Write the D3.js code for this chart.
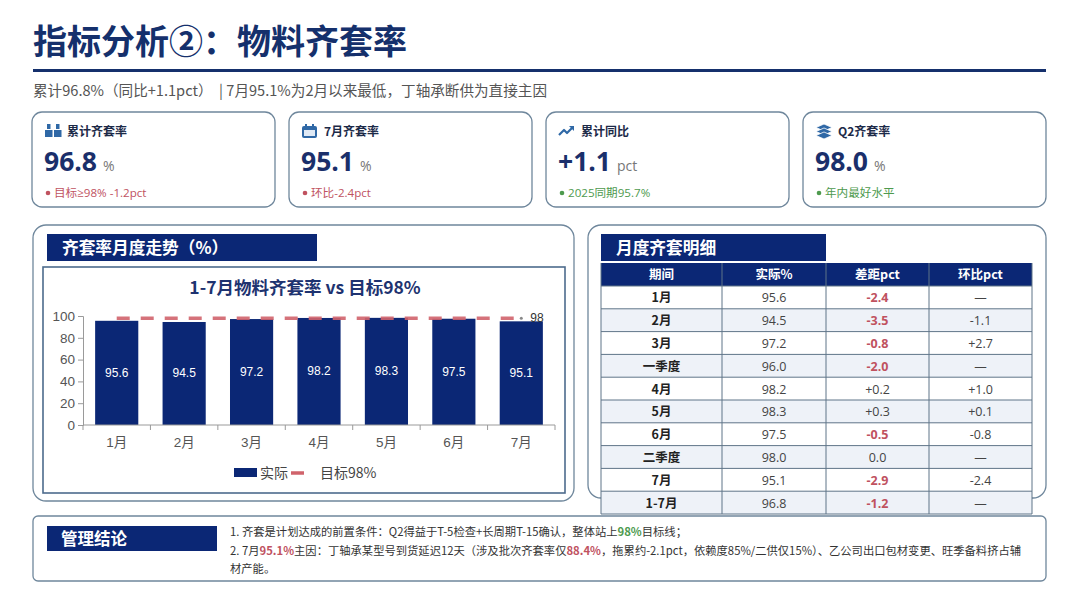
<!DOCTYPE html>
<html lang="zh">
<head>
<meta charset="UTF-8">
<title>指标分析②：物料齐套率</title>
<script src="https://cdn.jsdelivr.net/npm/d3@7/dist/d3.min.js"></script>
<style>
  body { margin: 0; background: #ffffff; }
  svg { display: block; }
  .pre { white-space: pre; }
</style>
</head>
<body>
<script>
// ---- data ----
const months = ["1月", "2月", "3月", "4月", "5月", "6月", "7月"];
const actual = [95.6, 94.5, 97.2, 98.2, 98.3, 97.5, 95.1];
const target = 98;
const yTicks = [0, 20, 40, 60, 80, 100];

const kpiLabels = ["累计齐套率", "7月齐套率", "累计同比", "Q2齐套率"];
const kpiValues = ["96.8", "95.1", "+1.1", "98.0"];
const kpiUnits = ["%", "%", "pct", "%"];
const kpiNotes = ["目标≥98% -1.2pct", "环比-2.4pct", "2025同期95.7%", "年内最好水平"];
const kpiTone = ["bad", "bad", "good", "good"];

const tableHead = ["期间", "实际%", "差距pct", "环比pct"];
const periods = ["1月", "2月", "3月", "一季度", "4月", "5月", "6月", "二季度", "7月", "1-7月"];
const actualPct = ["95.6", "94.5", "97.2", "96.0", "98.2", "98.3", "97.5", "98.0", "95.1", "96.8"];
const gapPct = ["-2.4", "-3.5", "-0.8", "-2.0", "+0.2", "+0.3", "-0.5", "0.0", "-2.9", "-1.2"];
const momPct = ["—", "-1.1", "+2.7", "—", "+1.0", "+0.1", "-0.8", "—", "-2.4", "—"];

const notes = [
  [["1. 齐套是计划达成的前置条件：Q2得益于T-5检查+长周期T-15确认，整体站上", ""], ["98%", "good"], ["目标线；", ""]],
  [["2. 7月", ""], ["95.1%", "bad"], ["主因：丁轴承某型号到货延迟12天（涉及批次齐套率仅", ""], ["88.4%", "bad"],
   ["，拖累约-2.1pct，依赖度85%/二供仅15%）、乙公司出口包材变更、旺季备料挤占辅", ""]],
  [["材产能。", ""]]
];

// ---- styles ----
const NAVY = "#0b2775";
const TITLE = "#15306c";
const RED = "#c0525f";
const GREEN = "#4e9a4e";
const BORDER = "#6f879c";
const ICON = "#2f68a6";
const CJK = "'Noto Sans CJK SC', 'Noto Sans', sans-serif";
const NUM = "'Liberation Sans', 'Noto Sans CJK SC', sans-serif";
const UI = "'Open Sans', 'Noto Sans CJK SC', sans-serif";

const svg = d3.select("body").append("svg")
  .attr("width", 1080).attr("height", 608);

// ---- page title ----
svg.append("text")
  .attr("x", 33).attr("y", 54)
  .attr("font-family", CJK).attr("font-weight", 700).attr("font-size", 34)
  .attr("fill", TITLE)
  .text("指标分析②：物料齐套率");

svg.append("rect")
  .attr("x", 33).attr("y", 69).attr("width", 1013).attr("height", 3)
  .attr("fill", TITLE);

svg.append("text")
  .attr("class", "pre")
  .attr("x", 33).attr("y", 96)
  .attr("font-family", CJK).attr("font-size", 14.6).attr("fill", "#555")
  .text("累计96.8%（同比+1.1pct）  | 7月95.1%为2月以来最低，丁轴承断供为直接主因");

// ---- KPI cards ----
const cardX = d3.scaleBand().domain(d3.range(4)).range([32, 1046]).paddingInner(0.0545).paddingOuter(0);

function drawIcon(g, i) {
  if (i === 0) {
    g.append("rect").attr("x", 0).attr("y", 6).attr("width", 7.5).attr("height", 7).attr("fill", ICON);
    g.append("rect").attr("x", 9).attr("y", 6).attr("width", 7.5).attr("height", 7).attr("fill", ICON);
    g.append("rect").attr("x", 2).attr("y", 0).attr("width", 3.5).attr("height", 5).attr("fill", ICON);
    g.append("rect").attr("x", 11).attr("y", 0).attr("width", 3.5).attr("height", 5).attr("fill", ICON);
  } else if (i === 1) {
    g.append("rect").attr("x", 0).attr("y", 2).attr("width", 15).attr("height", 12).attr("rx", 2).attr("fill", ICON);
    g.append("rect").attr("x", 3).attr("y", 0).attr("width", 2).attr("height", 4).attr("fill", ICON);
    g.append("rect").attr("x", 10).attr("y", 0).attr("width", 2).attr("height", 4).attr("fill", ICON);
    g.append("rect").attr("x", 2).attr("y", 6).attr("width", 11).attr("height", 6).attr("fill", "#dfe9f5");
  } else if (i === 2) {
    g.append("path").attr("d", "M0,11 L5,6 L8,9 L14,3").attr("fill", "none")
      .attr("stroke", ICON).attr("stroke-width", 2.2).attr("stroke-linejoin", "round");
    g.append("path").attr("d", "M10,2 L15,2 L15,7 Z").attr("fill", ICON);
  } else {
    [0, 4, 8].forEach(dy => {
      g.append("path").attr("d", `M8,${dy} L16,${dy + 3.5} L8,${dy + 7} L0,${dy + 3.5} Z`)
        .attr("fill", ICON).attr("stroke", "#fff").attr("stroke-width", 0.8);
    });
  }
}

const cards = svg.selectAll("g.card").data(d3.range(4)).join("g")
  .attr("class", "card")
  .attr("transform", i => `translate(${cardX(i)},112)`);

cards.append("rect")
  .attr("width", cardX.bandwidth()).attr("height", 95).attr("rx", 10)
  .attr("fill", "#fff").attr("stroke", BORDER).attr("stroke-width", 1.3);

cards.each(function (i) {
  const g = d3.select(this);
  drawIcon(g.append("g").attr("transform", "translate(13,12)"), i);
  g.append("text").attr("x", 35).attr("y", 24)
    .attr("font-family", CJK).attr("font-weight", 700).attr("font-size", 12).attr("fill", "#1c2a48")
    .text(kpiLabels[i]);
  const v = g.append("text").attr("x", 12).attr("y", 59)
    .attr("font-family", UI).attr("font-weight", 700).attr("font-size", 26.5).attr("fill", "#1a2f6b")
    .text(kpiValues[i]);
  const w = v.node().getComputedTextLength();
  g.append("text").attr("x", 12 + w + 6).attr("y", 59)
    .attr("font-family", UI).attr("font-size", 14).attr("fill", "#777")
    .text(kpiUnits[i]);
  const c = kpiTone[i] === "bad" ? RED : GREEN;
  g.append("circle").attr("cx", 16).attr("cy", 81).attr("r", 2.3).attr("fill", c);
  g.append("text").attr("x", 22).attr("y", 85)
    .attr("font-family", UI).attr("font-size", 11.6).attr("fill", c)
    .text(kpiNotes[i]);
});

// ---- panels ----
function panel(x, y, w, h) {
  svg.append("rect").attr("x", x).attr("y", y).attr("width", w).attr("height", h).attr("rx", 13)
    .attr("fill", "#fff").attr("stroke", BORDER).attr("stroke-width", 1.3);
}
function headBar(x, y, w, h, label) {
  svg.append("rect").attr("x", x).attr("y", y).attr("width", w).attr("height", h).attr("fill", NAVY);
  svg.append("text").attr("x", x + 15).attr("y", y + h / 2 + 6)
    .attr("font-family", CJK).attr("font-weight", 700).attr("font-size", 16.7).attr("fill", "#fff")
    .text(label);
}

panel(33, 225, 541, 276);
headBar(47, 234, 270, 27, "齐套率月度走势（%）");

panel(588, 225, 458, 273);
headBar(601, 234, 225, 27, "月度齐套明细");

// ---- chart ----
svg.append("rect").attr("x", 43).attr("y", 267).attr("width", 522).attr("height", 226)
  .attr("fill", "#fff").attr("stroke", "#4d6b8c").attr("stroke-width", 1.6);

svg.append("text").attr("x", 305).attr("y", 294).attr("text-anchor", "middle")
  .attr("font-family", CJK).attr("font-weight", 700).attr("font-size", 17.5).attr("fill", "#1e3370")
  .text("1-7月物料齐套率 vs 目标98%");

const x = d3.scaleBand().domain(months).range([83, 555]).paddingInner(0.36).paddingOuter(0.18);
const y = d3.scaleLinear().domain([0, 100]).range([425, 316]);

const plot = svg.append("g");

plot.selectAll("rect.bar").data(months).join("rect")
  .attr("class", "bar")
  .attr("x", d => x(d)).attr("width", x.bandwidth())
  .attr("y", (d, i) => y(actual[i])).attr("height", (d, i) => y(0) - y(actual[i]))
  .attr("fill", NAVY);

plot.selectAll("text.barlab").data(months).join("text")
  .attr("class", "barlab")
  .attr("x", d => x(d) + x.bandwidth() / 2)
  .attr("y", (d, i) => y(actual[i] / 2) + 4)
  .attr("text-anchor", "middle")
  .attr("font-family", NUM).attr("font-size", 12).attr("fill", "#fff")
  .text((d, i) => actual[i].toFixed(1));

// y axis
const yAxis = svg.append("g").attr("transform", "translate(83,0)")
  .call(d3.axisLeft(y).tickValues(yTicks).tickSize(5).tickPadding(3));
// x axis, ticks between categories
const boundaries = d3.range(months.length + 1).map(i => 83 + i * (472 / months.length));
const xAxis = svg.append("g").attr("transform", `translate(0,${y(0)})`)
  .call(d3.axisBottom(x).tickSize(0).tickPadding(12));
xAxis.append("g").selectAll("line").data(boundaries).join("line")
  .attr("x1", d => d).attr("x2", d => d).attr("y1", 0).attr("y2", 5);

[yAxis, xAxis].forEach(a => {
  a.select(".domain").attr("stroke", "#9a9a9a");
  a.selectAll("line").attr("stroke", "#9a9a9a");
  a.selectAll("text").attr("font-family", NUM).attr("font-size", 13.5).attr("fill", "#555");
});
xAxis.select(".domain").attr("d", "M83,0H555");

// target line
const line = d3.line().x(d => x(d) + x.bandwidth() / 2).y(() => y(target));
plot.append("path").datum(months)
  .attr("d", line)
  .attr("fill", "none").attr("stroke", "#d0636b").attr("stroke-width", 3.5)
  .attr("stroke-dasharray", "13,11").attr("opacity", 0.9);
const lastX = x(months[months.length - 1]) + x.bandwidth() / 2;
plot.append("circle").attr("cx", lastX).attr("cy", y(target)).attr("r", 1.5).attr("fill", "#888");
plot.append("text").attr("x", lastX + 9).attr("y", y(target) + 4)
  .attr("font-family", NUM).attr("font-size", 12).attr("fill", "#333")
  .text(target);

// legend
const leg = svg.append("g").attr("transform", "translate(234,468)");
leg.append("rect").attr("width", 23).attr("height", 9).attr("fill", NAVY);
leg.append("text").attr("x", 26).attr("y", 10).attr("font-family", CJK).attr("font-size", 14).attr("fill", "#444").text("实际");
leg.append("line").attr("x1", 57).attr("x2", 70).attr("y1", 5).attr("y2", 5)
  .attr("stroke", "#d0636b").attr("stroke-width", 3.5);
leg.append("text").attr("x", 86).attr("y", 10).attr("font-family", CJK).attr("font-size", 14).attr("fill", "#444").text("目标98%");

// ---- table ----
const colEdges = [601, 722, 826, 929, 1032];
const headH = 23, rowH = 22.8, tTop = 263;
const tbl = svg.append("g");

tbl.append("rect").attr("x", 601).attr("y", tTop).attr("width", 431).attr("height", headH).attr("fill", NAVY);
tbl.selectAll("text.th").data(tableHead).join("text")
  .attr("class", "th")
  .attr("x", (d, i) => (colEdges[i] + colEdges[i + 1]) / 2).attr("y", tTop + 16)
  .attr("text-anchor", "middle")
  .attr("font-family", CJK).attr("font-weight", 700).attr("font-size", 12.5).attr("fill", "#fff")
  .text(d => d);

const rows = tbl.selectAll("g.row").data(periods).join("g")
  .attr("class", "row")
  .attr("transform", (d, i) => `translate(0,${tTop + headH + i * rowH})`);

rows.append("rect").attr("x", 601).attr("width", 431).attr("height", rowH)
  .attr("fill", (d, i) => i % 2 ? "#eef2f8" : "#ffffff");

rows.each(function (p, i) {
  const g = d3.select(this);
  const cells = [p, actualPct[i], gapPct[i], momPct[i]];
  cells.forEach((c, j) => {
    const neg = j === 2 && c.startsWith("-");
    g.append("text")
      .attr("x", (colEdges[j] + colEdges[j + 1]) / 2).attr("y", rowH / 2 + 5)
      .attr("text-anchor", "middle")
      .attr("font-family", j === 0 ? CJK : UI)
      .attr("font-weight", j === 0 || neg ? 700 : 400)
      .attr("font-size", 12.5)
      .attr("fill", j === 0 ? "#222" : neg ? RED : "#444")
      .text(c);
  });
});

// grid lines
const tBottom = tTop + headH + periods.length * rowH;
tbl.selectAll("line.h").data(d3.range(periods.length + 1)).join("line")
  .attr("x1", 601).attr("x2", 1032)
  .attr("y1", i => tTop + headH + i * rowH).attr("y2", i => tTop + headH + i * rowH)
  .attr("stroke", "#5f7488").attr("stroke-width", 1);
tbl.selectAll("line.v").data(colEdges).join("line")
  .attr("x1", d => d).attr("x2", d => d).attr("y1", tTop).attr("y2", tBottom)
  .attr("stroke", "#5f7488").attr("stroke-width", 1);

// ---- conclusion ----
svg.append("rect").attr("x", 33).attr("y", 516).attr("width", 1013).attr("height", 65).attr("rx", 5)
  .attr("fill", "#fff").attr("stroke", BORDER).attr("stroke-width", 1.3);
svg.append("rect").attr("x", 47).attr("y", 526).attr("width", 170).attr("height", 25).attr("fill", NAVY);
svg.append("text").attr("x", 61).attr("y", 545)
  .attr("font-family", CJK).attr("font-weight", 700).attr("font-size", 16.5).attr("fill", "#fff")
  .text("管理结论");

const noteText = svg.append("text").attr("font-family", CJK).attr("font-size", 11.3).attr("fill", "#333");
notes.forEach((segs, li) => {
  segs.forEach((s, si) => {
    const t = noteText.append("tspan").text(s[0]);
    if (si === 0) t.attr("x", 230).attr("y", 536 + li * 18.5);
    if (s[1]) t.attr("font-weight", 700).attr("fill", s[1] === "bad" ? RED : GREEN);
  });
});
</script>
</body>
</html>
